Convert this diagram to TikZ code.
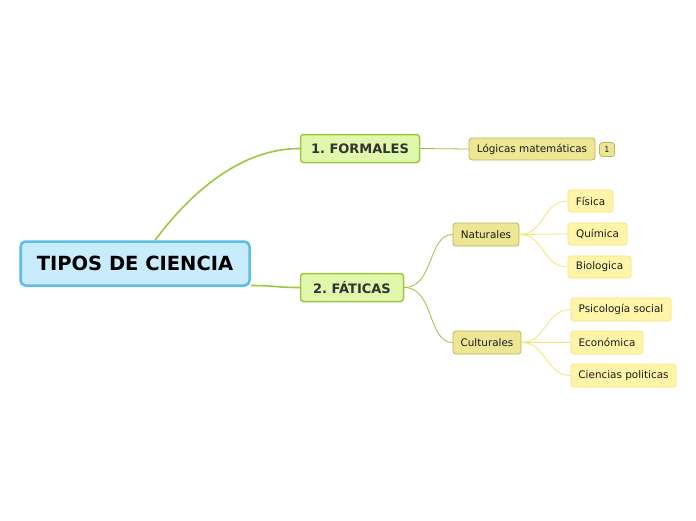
\documentclass[tikz,border=0pt]{standalone}
\usepackage{fontspec}
\setmainfont{DejaVu Sans}
\begin{document}
\frenchspacing
\begin{tikzpicture}[x=1pt,y=-1pt,
  box/.style={rectangle,rounded corners=3pt,inner sep=0pt,align=center},
  rootbox/.style={box,fill=rootfill,draw=rootline,line width=2.5pt,rounded corners=5pt,font=\fontsize{19.5}{22}\selectfont\bfseries,text=black},
  mainbox/.style={box,fill=mainfill,draw=mainline,line width=1.5pt,font=\fontsize{13}{15}\selectfont\bfseries,text=txt},
  subbox/.style={box,fill=subfill,draw=subline,line width=0.8pt,font=\fontsize{10.4}{12}\selectfont,text=txtb},
  leafbox/.style={box,fill=leaffill,draw=leafline,line width=0.8pt,font=\fontsize{10.4}{12}\selectfont,text=txtb},
  badge/.style={box,fill=subfill,draw=subline,line width=0.8pt,font=\fontsize{8}{9}\selectfont,text=txtb},
  mainedge/.style={draw=mainline,line width=1.6pt},
  subedge/.style={draw=subedgecol,line width=0.8pt},
  leafedge/.style={draw=leafedgecol,line width=0.8pt}
]
\definecolor{rootfill}{HTML}{C8ECFC}
\definecolor{rootline}{HTML}{5BBDE8}
\definecolor{mainfill}{HTML}{E0F8AC}
\definecolor{mainline}{HTML}{9CC73F}
\definecolor{txt}{HTML}{333333}
\definecolor{txtb}{HTML}{1A1A1A}
\definecolor{subfill}{HTML}{EDE795}
\definecolor{subline}{HTML}{BDB552}
\definecolor{subedgecol}{HTML}{B8B240}
\definecolor{leaffill}{HTML}{FFF5A8}
\definecolor{leafline}{HTML}{F7E27A}
\definecolor{leafedgecol}{HTML}{F7E36E}
\useasboundingbox[fill=white] (0,0) rectangle (696,520);

\node[rootbox,minimum width=229pt,minimum height=44pt] (root) at (135,263.5) {TIPOS DE CIENCIA};
\node[mainbox,minimum width=119pt,minimum height=28pt] (formales) at (360,148.5) {1. FORMALES};
\node[mainbox,minimum width=103pt,minimum height=28pt] (faticas) at (352,287.5) {2. FÁTICAS};
\node[subbox,minimum width=126pt,minimum height=22pt] (logicas) at (532,149) {Lógicas matemáticas};
\node[badge,minimum width=15pt,minimum height=14pt] (b1) at (607,149.5) {1};
\node[subbox,minimum width=66pt,minimum height=23pt] (naturales) at (486,234.5) {Naturales};
\node[subbox,minimum width=68pt,minimum height=23pt] (culturales) at (487,342.5) {Culturales};
\node[leafbox,minimum width=45pt,minimum height=22pt] (fisica) at (590.5,201) {Física};
\node[leafbox,minimum width=59pt,minimum height=22pt] (quimica) at (597.5,234) {Química};
\node[leafbox,minimum width=63pt,minimum height=22pt] (biologica) at (599.5,267) {Biologica};
\node[leafbox,minimum width=100pt,minimum height=23pt] (psico) at (621,309.5) {Psicología social};
\node[leafbox,minimum width=72pt,minimum height=23pt] (economica) at (607,342.5) {Económica};
\node[leafbox,minimum width=105pt,minimum height=23pt] (ciencias) at (623.5,375.5) {Ciencias politicas};

\coordinate (roottop) at ([xshift=20pt]root.north);
\coordinate (rootright) at ([yshift=-22pt]root.east);
\draw[mainedge] (roottop) .. controls +(45,-60) and +(-50,0) .. (formales.west);
\draw[mainedge] (rootright) .. controls +(25,0) and +(-25,0) .. (faticas.west);
\draw[subedge] (formales.east) .. controls +(25,0) and +(-25,0) .. (logicas.west);
\draw[subedge] (faticas.east) .. controls +(30,0) and +(-25,0) .. (naturales.west);
\draw[subedge] (faticas.east) .. controls +(30,0) and +(-25,0) .. (culturales.west);
\draw[leafedge] (naturales.east) .. controls +(25,0) and +(-25,0) .. (fisica.west);
\draw[leafedge] (naturales.east) .. controls +(25,0) and +(-25,0) .. (quimica.west);
\draw[leafedge] (naturales.east) .. controls +(25,0) and +(-25,0) .. (biologica.west);
\draw[leafedge] (culturales.east) .. controls +(25,0) and +(-25,0) .. (psico.west);
\draw[leafedge] (culturales.east) .. controls +(25,0) and +(-25,0) .. (economica.west);
\draw[leafedge] (culturales.east) .. controls +(25,0) and +(-25,0) .. (ciencias.west);
\end{tikzpicture}
\end{document}
